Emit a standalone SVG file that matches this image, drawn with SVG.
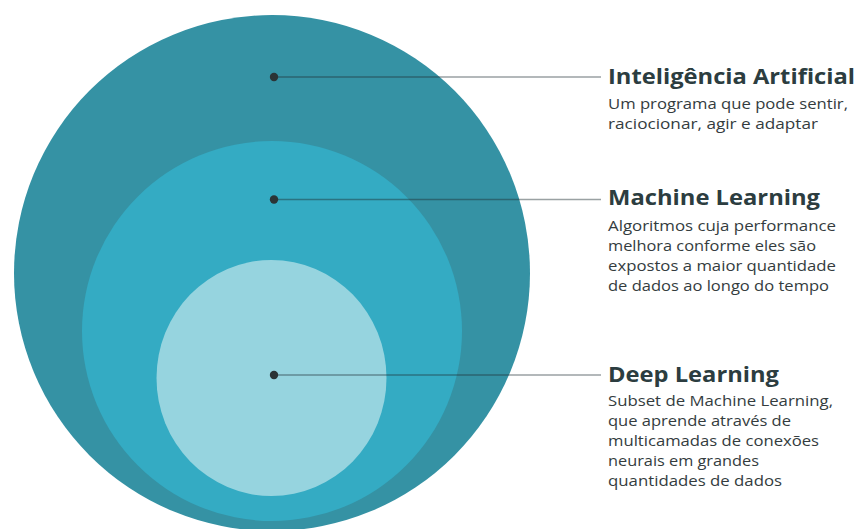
<svg xmlns="http://www.w3.org/2000/svg" width="856" height="529" viewBox="0 0 856 529">
  <style>
    .title { font-family: "Open Sans", "DejaVu Sans", sans-serif; font-weight: 700; font-size: 20.5px; fill: #2c3d40; }
    .desc { font-family: "Open Sans", "DejaVu Sans", sans-serif; font-weight: 400; font-size: 14.5px; fill: #343c3e; }
    .leader { stroke: #1f2f33; stroke-opacity: 0.45; stroke-width: 1.5; fill: none; }
    .dot { fill: #2b3436; }
  </style>
  <rect width="856" height="529" fill="#ffffff"/>
  <g id="node-ai">
    <circle cx="272" cy="273" r="258" fill="#3592a4"/>
  </g>
  <g id="node-ml">
    <circle cx="272" cy="331" r="190" fill="#34abc3"/>
  </g>
  <g id="node-dl">
    <ellipse cx="271.5" cy="378" rx="115" ry="118" fill="#96d4df"/>
  </g>
  <g id="connectors">
    <line class="leader" x1="274" y1="77" x2="601" y2="77"/>
    <line class="leader" x1="274" y1="199.5" x2="601" y2="199.5"/>
    <line class="leader" x1="274" y1="375" x2="601" y2="375"/>
    <circle class="dot" cx="274" cy="77" r="4.2"/>
    <circle class="dot" cx="274" cy="199.5" r="4.2"/>
    <circle class="dot" cx="274" cy="375" r="4.2"/>
  </g>
  <g id="label-ai">
    <text class="title" x="608" y="84" textLength="247" lengthAdjust="spacingAndGlyphs">Inteligência Artificial</text>
    <text class="desc" x="608" y="108.5" textLength="240" lengthAdjust="spacingAndGlyphs">Um programa que pode sentir,</text>
    <text class="desc" x="608" y="129" textLength="210" lengthAdjust="spacingAndGlyphs">raciocionar, agir e adaptar</text>
  </g>
  <g id="label-ml">
    <text class="title" x="608" y="205" textLength="212" lengthAdjust="spacingAndGlyphs">Machine Learning</text>
    <text class="desc" x="608" y="231" textLength="228" lengthAdjust="spacingAndGlyphs">Algoritmos cuja performance</text>
    <text class="desc" x="608" y="251" textLength="208" lengthAdjust="spacingAndGlyphs">melhora conforme eles são</text>
    <text class="desc" x="608" y="271" textLength="228" lengthAdjust="spacingAndGlyphs">expostos a maior quantidade</text>
    <text class="desc" x="608" y="291" textLength="221" lengthAdjust="spacingAndGlyphs">de dados ao longo do tempo</text>
  </g>
  <g id="label-dl">
    <text class="title" x="608" y="382" textLength="171" lengthAdjust="spacingAndGlyphs">Deep Learning</text>
    <text class="desc" x="608" y="406" textLength="225" lengthAdjust="spacingAndGlyphs">Subset de Machine Learning,</text>
    <text class="desc" x="608" y="426" textLength="183" lengthAdjust="spacingAndGlyphs">que aprende através de</text>
    <text class="desc" x="608" y="446" textLength="211" lengthAdjust="spacingAndGlyphs">multicamadas de conexões</text>
    <text class="desc" x="608" y="466" textLength="151" lengthAdjust="spacingAndGlyphs">neurais em grandes</text>
    <text class="desc" x="608" y="485.5" textLength="174" lengthAdjust="spacingAndGlyphs">quantidades de dados</text>
  </g>
</svg>
